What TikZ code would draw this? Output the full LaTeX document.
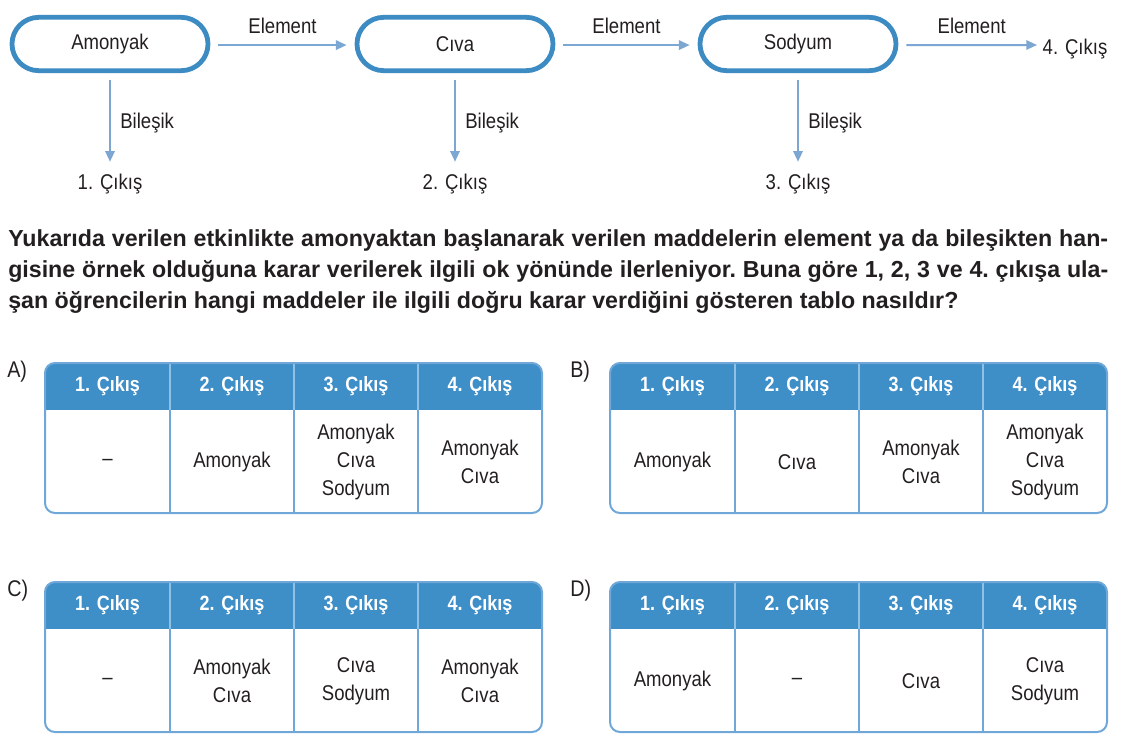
\documentclass[tikz,border=0pt]{standalone}
\usepackage{fontspec}
\setmainfont{Liberation Sans}[FakeStretch=0.87]
\newfontfamily\qfont{Liberation Sans}
\usetikzlibrary{arrows.meta}
\definecolor{boxblue}{HTML}{3D8BC3}
\definecolor{arrblue}{HTML}{7BA7D2}
\definecolor{headblue}{HTML}{3E8EC8}
\definecolor{lineblue}{HTML}{6FA7D8}
\definecolor{headline}{HTML}{8FC0E6}
\definecolor{txt}{HTML}{231F20}
\newcommand{\maketable}[9]{%
  \begin{scope}[shift={(#2,#3)}]
    \begin{scope}
      \clip[rounded corners=7.5pt] (0,0) rectangle (497,150);
      \fill[headblue] (0,0) rectangle (497,47);
    \end{scope}
    \foreach \cx in {125,249,373}{
      \draw[headline, line width=1pt] (\cx,0) -- (\cx,47);
      \draw[lineblue, line width=1.5pt] (\cx,47) -- (\cx,150);
    }
    \draw[lineblue, line width=1.5pt, rounded corners=7.5pt] (0,0) rectangle (497,150);
    \node[headtxt] (#1h1) at (62.5,23.5) {1. Çıkış};
    \node[headtxt] (#1h2) at (187,23.5) {2. Çıkış};
    \node[headtxt] (#1h3) at (311,23.5) {3. Çıkış};
    \node[headtxt] (#1h4) at (435,23.5) {4. Çıkış};
    \node[bodytxt] (#1b1) at (62.5,99) {#6};
    \node[bodytxt] (#1b2) at (187,99) {#7};
    \node[bodytxt] (#1b3) at (311,99) {#8};
    \node[bodytxt] (#1b4) at (435,99) {#9};
  \end{scope}%
  \node[optlbl, anchor=west] (#1lab) at (#4,#5) {#1)};
}
\begin{document}
\begin{tikzpicture}[x=0.75pt,y=-0.75pt,
  pill/.style={draw=boxblue, line width=3.6pt, rounded corners=20pt, minimum width=147pt, minimum height=40pt, font=\fontsize{16}{19}\selectfont, text=txt},
  flowarr/.style={draw=arrblue, line width=1.5pt, -{Triangle[length=8pt,width=7pt]}},
  lbl/.style={font=\fontsize{16}{19}\selectfont, text=txt, inner sep=0pt},
  optlbl/.style={font=\fontsize{17}{19}\selectfont, text=txt, inner sep=0pt},
  headtxt/.style={font=\bfseries\fontsize{15.5}{18}\selectfont, text=white, inner sep=0pt},
  bodytxt/.style={font=\fontsize{16}{21}\selectfont, text=txt, align=center, inner sep=0pt}]
\useasboundingbox (0,0) rectangle (1122,744);
% flow
\node[pill] (amo) at (110,44) {Amonyak};
\node[pill] (civa) at (455,44) {Cıva};
\node[pill] (sod) at (798,44) {Sodyum};
\node[lbl] (out4) at (1075,49) {4. Çıkış};
\node[lbl] (out1) at (110,184) {1. Çıkış};
\node[lbl] (out2) at (455,184) {2. Çıkış};
\node[lbl] (out3) at (798,184) {3. Çıkış};
\coordinate (e4) at (1037,45);
\draw[flowarr] ([xshift=6pt,yshift=-0.8pt]amo.east) -- node[lbl, above=7.5pt]{Element} ([xshift=-6pt,yshift=-0.8pt]civa.west);
\draw[flowarr] ([xshift=6pt,yshift=-0.8pt]civa.east) -- node[lbl, above=7.5pt]{Element} ([xshift=-6pt,yshift=-0.8pt]sod.west);
\draw[flowarr] ([xshift=6pt,yshift=-0.8pt]sod.east) -- node[lbl, above=7.5pt]{Element} (e4);
\draw[flowarr] ([yshift=-5pt]amo.south) -- node[lbl, right=7pt, yshift=-2pt]{Bileşik} ([yshift=9pt]out1.north);
\draw[flowarr] ([yshift=-5pt]civa.south) -- node[lbl, right=7pt, yshift=-2pt]{Bileşik} ([yshift=9pt]out2.north);
\draw[flowarr] ([yshift=-5pt]sod.south) -- node[lbl, right=7pt, yshift=-2pt]{Bileşik} ([yshift=9pt]out3.north);
% question
\node[anchor=north west, inner sep=0pt, text width=825pt, align=justify, text=txt,
  font=\qfont\bfseries\fontsize{17.4}{23.3}\selectfont\frenchspacing] (q) at (8,229.5)
  {Yukarıda verilen etkinlikte amonyaktan başlanarak verilen maddelerin element ya da bileşikten han-\linebreak gisine örnek olduğuna karar verilerek ilgili ok yönünde ilerleniyor. Buna göre 1, 2, 3 ve 4. çıkışa ula-\linebreak şan öğrencilerin hangi maddeler ile ilgili doğru karar verdiğini gösteren tablo nasıldır?};
% tables
\maketable{A}{45}{363}{7}{372}{--}{Amonyak}{Amonyak\\Cıva\\Sodyum}{Amonyak\\Cıva}
\maketable{B}{610}{363}{570}{372}{Amonyak}{Cıva}{Amonyak\\Cıva}{Amonyak\\Cıva\\Sodyum}
\maketable{C}{45}{582}{7}{591}{--}{Amonyak\\Cıva}{Cıva\\Sodyum}{Amonyak\\Cıva}
\maketable{D}{610}{582}{570}{591}{Amonyak}{--}{Cıva}{Cıva\\Sodyum}
\end{tikzpicture}
\end{document}
